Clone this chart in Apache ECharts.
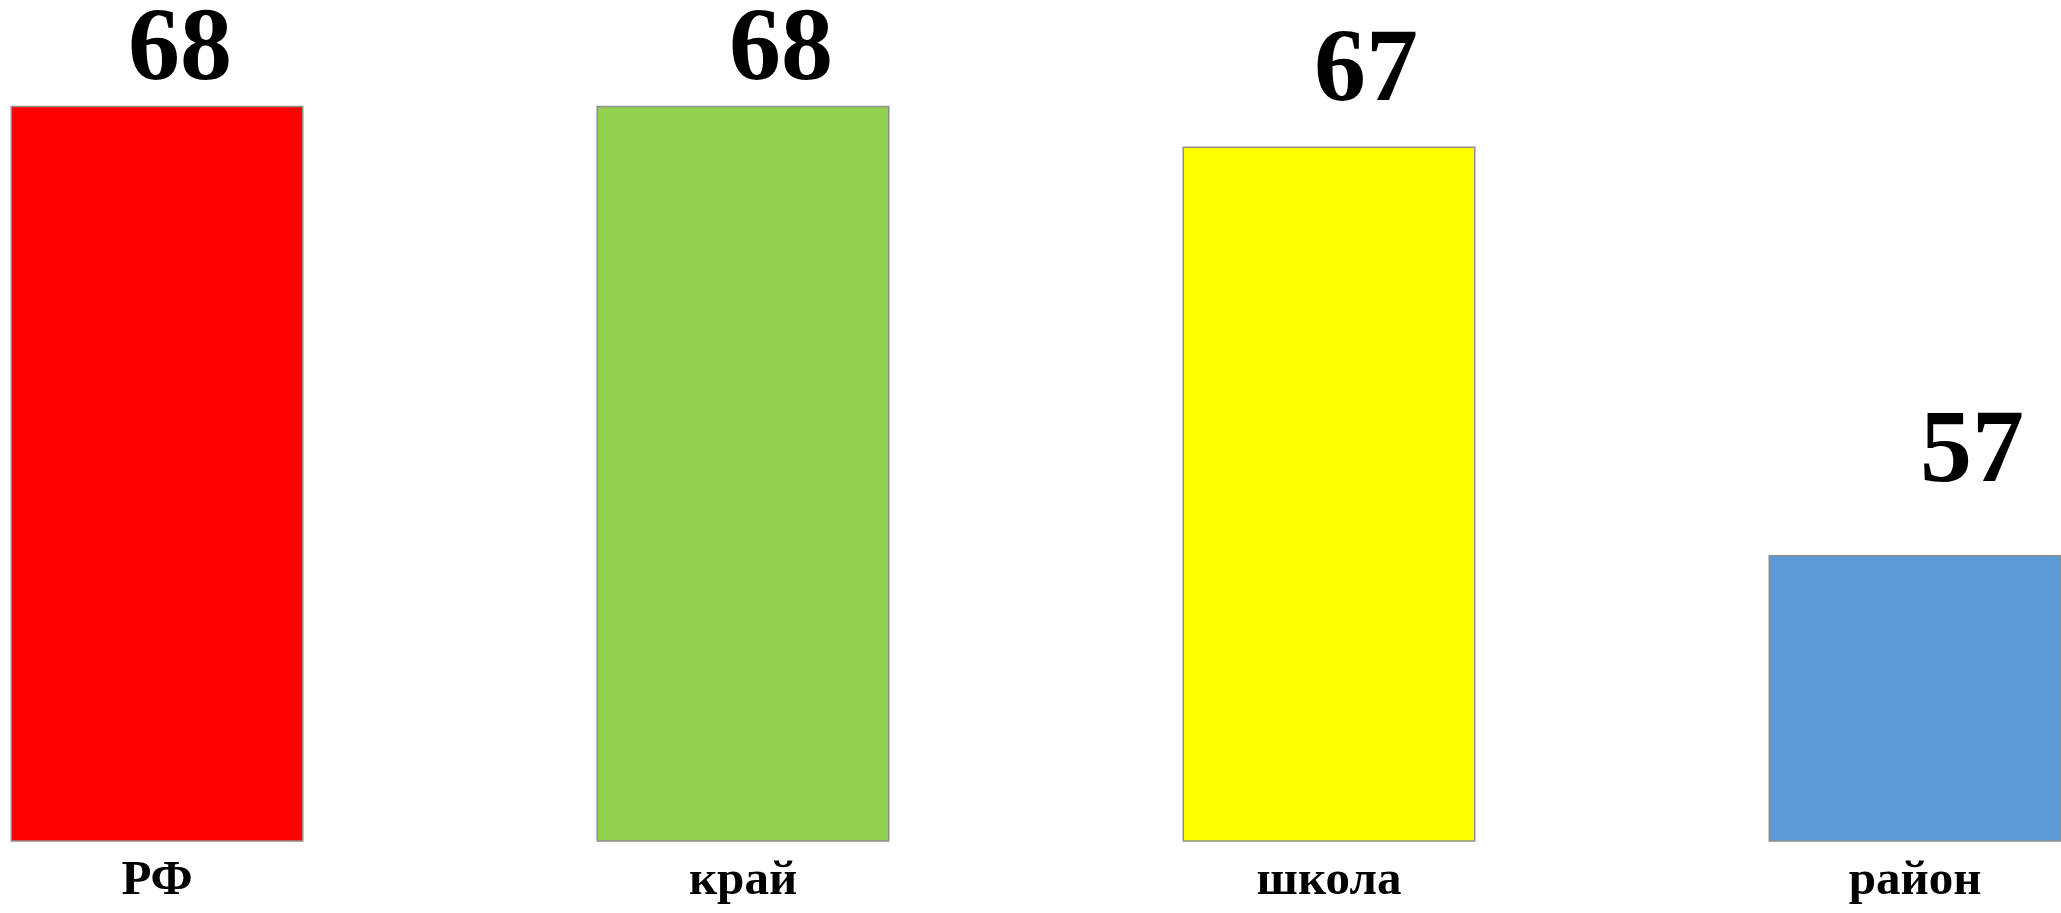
<!DOCTYPE html>
<html>
<head>
<meta charset="utf-8">
<style>
html,body{margin:0;padding:0;background:#fff;}
#chart{width:2061px;height:913px;}
</style>
<script src="https://cdn.jsdelivr.net/npm/echarts@6/dist/echarts.min.js"></script>
</head>
<body>
<div id="chart"></div>
<script>
const categories = ['РФ', 'край', 'школа', 'район'];
const values = [68, 68, 67, 57];
const barColors = ['#FF0000', '#92D050', '#FFFF00', '#5B9BD5'];
const labelOffsets = [[23, 3], [38, 3], [37, -16], [57, -44]];

const chart = echarts.init(document.getElementById('chart'));
chart.setOption({
  animation: false,
  backgroundColor: '#ffffff',
  grid: { left: -136, right: -147, top: 24, bottom: 72, containLabel: false, outerBoundsMode: 'none' },
  xAxis: {
    type: 'category',
    data: categories,
    axisLine: { show: false, onZero: false },
    axisTick: { show: false },
    axisLabel: {
      margin: 16,
      fontFamily: 'Liberation Serif',
      fontWeight: 'bold',
      fontSize: 49,
      color: '#000'
    }
  },
  yAxis: {
    type: 'value',
    min: 50, max: 70, interval: 10,
    show: false,
    splitLine: { show: false }
  },
  series: [{
    type: 'bar',
    barCategoryGap: '50%',
    clip: true,
    data: values.map((v, i) => ({
      value: v,
      itemStyle: { color: barColors[i] },
      label: { offset: labelOffsets[i] }
    })),
    itemStyle: { borderColor: '#8f8f8f', borderWidth: 1.5 },
    label: {
      show: true,
      position: 'top',
      distance: 5,
      fontFamily: 'Liberation Serif',
      fontWeight: 'bold',
      fontSize: 104,
      color: '#000'
    }
  }]
});
</script>
</body>
</html>
